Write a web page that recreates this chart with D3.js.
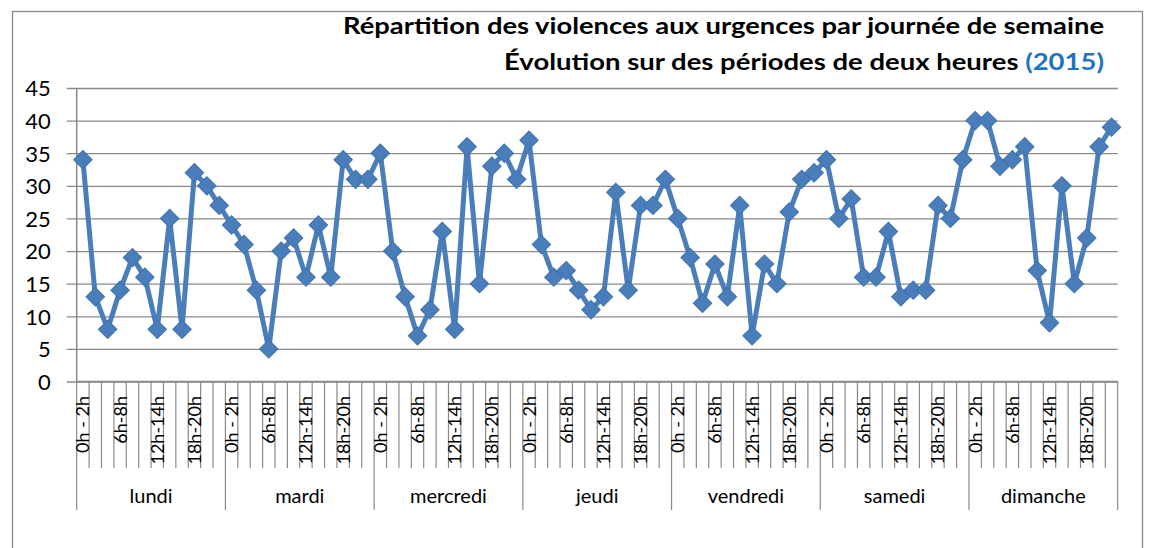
<!DOCTYPE html>
<html><head><meta charset="utf-8">
<script src="https://cdn.jsdelivr.net/npm/d3@7"></script>
<style>body{margin:0;background:#fff}svg{display:block;font-family:Lato,"Open Sans",sans-serif}</style>
</head><body>
<svg id="chart" width="1151" height="548"></svg>
<script>
const days = ["lundi","mardi","mercredi","jeudi","vendredi","samedi","dimanche"];
const periods = ["0h - 2h","2h-4h","4h-6h","6h-8h","8h-10h","10h-12h","12h-14h","14h-16h","16h-18h","18h-20h","20h-22h","22h-24h"];
const shownPeriods = ["0h - 2h","6h-8h","12h-14h","18h-20h"];
const lundi    = [34,13,8,14,19,16,8,25,8,32,30,27];
const mardi    = [24,21,14,5,20,22,16,24,16,34,31,31];
const mercredi = [35,20,13,7,11,23,8,36,15,33,35,31];
const jeudi    = [37,21,16,17,14,11,13,29,14,27,27,31];
const vendredi = [25,19,12,18,13,27,7,18,15,26,31,32];
const samedi   = [34,25,28,16,16,23,13,14,14,27,25,34];
const dimanche = [40,40,33,34,36,17,9,30,15,22,36,39];
const yTicks = [0,5,10,15,20,25,30,35,40,45];
const titleLine1 = "Répartition des violences aux urgences par journée de semaine";
const titleLine2 = "Évolution sur des périodes de deux heures ";
const titleYear = "(2015)";

const series = [lundi,mardi,mercredi,jeudi,vendredi,samedi,dimanche];
const data = days.flatMap((d,di)=>series[di].map((v,pi)=>({key:d+"|"+periods[pi],day:d,period:periods[pi],v})));

const svg = d3.select("#chart");
const L=76.7, R=1117.7, T=88, B=381.5;
const x = d3.scaleBand().domain(data.map(d=>d.key)).range([L,R]).padding(0);
const y = d3.scaleLinear().domain([0,45]).range([B,T]);
const bw = x.bandwidth();
const grey="#898989";

// outer border
svg.append("rect").attr("x",12.5).attr("y",11.5).attr("width",1130).attr("height",600)
  .attr("fill","none").attr("stroke",grey).attr("stroke-width",1.3);

// titles
svg.append("text").attr("x",1104).attr("y",34).attr("text-anchor","end")
  .attr("font-weight","bold").attr("font-size",23.5).attr("fill","#000")
  .attr("textLength",761).attr("lengthAdjust","spacingAndGlyphs").text(titleLine1);
const t2 = svg.append("text").attr("x",1104).attr("y",70).attr("text-anchor","end")
  .attr("font-weight","bold").attr("font-size",23.5).attr("fill","#000")
  .attr("textLength",600).attr("lengthAdjust","spacingAndGlyphs");
t2.append("tspan").text(titleLine2);
t2.append("tspan").attr("fill","#1F73C2").text(titleYear);

// gridlines + y axis
const yAxis = d3.axisLeft(y).tickValues(yTicks).tickSize(-(R-L)).tickPadding(0).tickFormat(d3.format("d"));
const gy = svg.append("g").attr("transform",`translate(${L},0)`).call(yAxis);
gy.select(".domain").remove();
gy.selectAll(".tick line").attr("x1",-10).attr("stroke",grey).attr("stroke-width",1.3);
gy.selectAll(".tick text").attr("x",-26).attr("font-size",22).attr("font-family","Lato,'Open Sans',sans-serif").attr("fill","#000").attr("dy","0.36em");
svg.append("line").attr("x1",L).attr("x2",L).attr("y1",T).attr("y2",B).attr("stroke",grey).attr("stroke-width",1.5);

// x axis multi-level
svg.append("line").attr("x1",L).attr("x2",R).attr("y1",B).attr("y2",B).attr("stroke",grey).attr("stroke-width",1.5);
const bounds = d3.range(data.length+1);
svg.append("g").selectAll("line").data(bounds).join("line")
  .attr("x1",i=>L+i*bw).attr("x2",i=>L+i*bw)
  .attr("y1",B).attr("y2",i=>i%periods.length===0?510:468)
  .attr("stroke",grey).attr("stroke-width",1.2);
svg.append("g").selectAll("text").data(data.filter(d=>shownPeriods.includes(d.period))).join("text")
  .attr("transform",d=>`translate(${x(d.key)+bw/2},396) rotate(-90)`)
  .attr("text-anchor","end").attr("dy","0.36em").attr("font-size",18).attr("fill","#000")
  .text(d=>d.period);
svg.append("g").selectAll("text").data(days).join("text")
  .attr("x",d=>(x(d+"|"+periods[0])+x(d+"|"+periods[periods.length-1])+bw)/2)
  .attr("y",503).attr("text-anchor","middle").attr("font-size",20).attr("fill","#000")
  .text(d=>d);

// line + markers
const color="#4A7EBB";
const line = d3.line().x(d=>x(d.key)+bw/2).y(d=>y(d.v));
svg.append("path").datum(data).attr("d",line).attr("fill","none")
  .attr("stroke",color).attr("stroke-width",5).attr("stroke-linejoin","round");
const sym = d3.symbol(d3.symbolSquare,170);
svg.append("g").selectAll("path").data(data).join("path")
  .attr("d",sym).attr("transform",d=>`translate(${x(d.key)+bw/2},${y(d.v)}) rotate(45)`)
  .attr("fill",color).attr("stroke","#3F72AD").attr("stroke-width",1);
</script>
</body></html>
